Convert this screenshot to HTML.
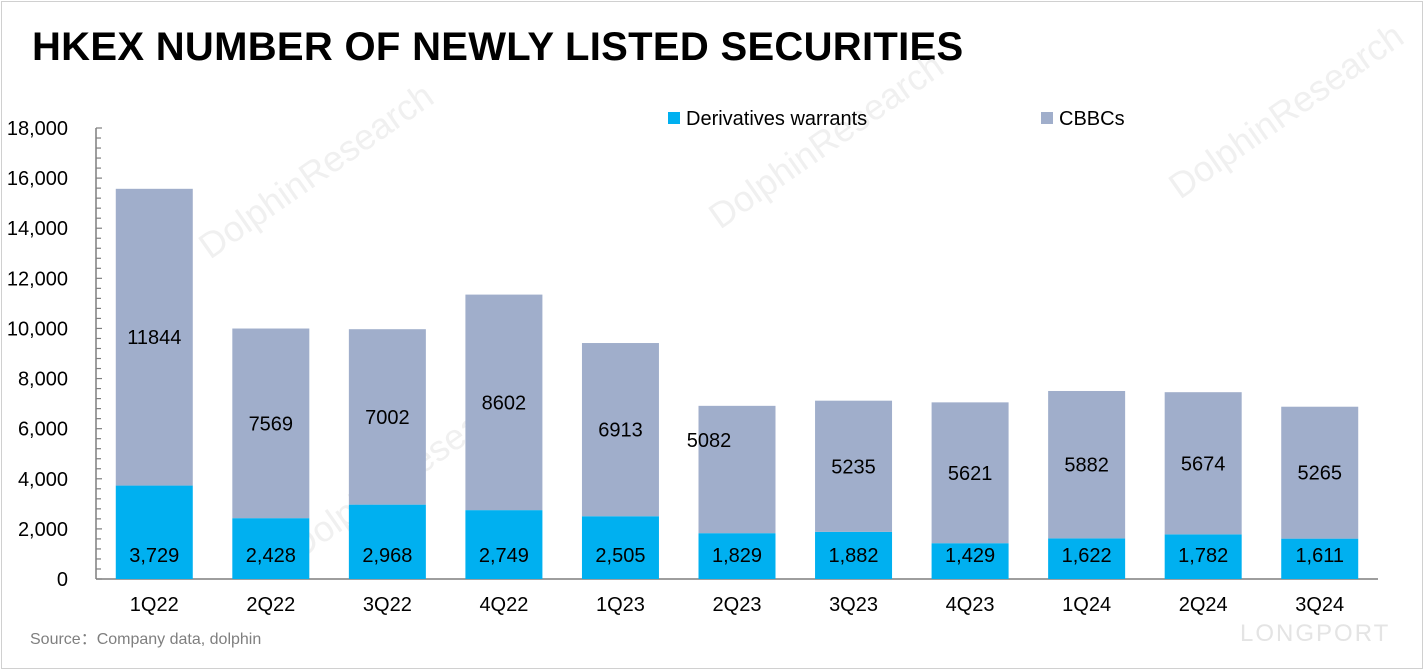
<!DOCTYPE html>
<html><head><meta charset="utf-8"><style>
body{margin:0;background:#fff;}
#wrap{position:relative;width:1424px;height:670px;overflow:hidden;font-family:"Liberation Sans","Noto Sans CJK SC",sans-serif;}
#frame{position:absolute;left:1px;top:1px;width:1420px;height:666px;border:1px solid #d0d0d0;}
h1{position:absolute;left:32px;top:25px;margin:0;font-size:40px;font-weight:bold;color:#000;letter-spacing:0.3px;}
#src{position:absolute;left:30px;top:625px;font-size:16px;color:#7f7f7f;}
#lp{position:absolute;left:1240px;top:620px;font-size:24px;color:#e4e4e4;letter-spacing:2px;}
</style></head><body>
<div id="wrap">
<div id="frame"></div>
<h1>HKEX NUMBER OF NEWLY LISTED SECURITIES</h1>
<div id="src">Source：Company data, dolphin</div>
<div id="lp">LONGPORT</div>
<svg id="chart" width="1424" height="670" style="position:absolute;left:0;top:0"></svg>
</div>
<script>
const categories=["1Q22","2Q22","3Q22","4Q22","1Q23","2Q23","3Q23","4Q23","1Q24","2Q24","3Q24"];
const warrants=[3729,2428,2968,2749,2505,1829,1882,1429,1622,1782,1611];
const cbbcs=[11844,7569,7002,8602,6913,5082,5235,5621,5882,5674,5265];
const yTicks=[0,2000,4000,6000,8000,10000,12000,14000,16000,18000];
const NS="http://www.w3.org/2000/svg";
const svg=document.getElementById('chart');
const x0=96,x1=1378,y0=579,yTop=128,yMax=18000;
const y=v=>y0-(v/yMax)*(y0-yTop);
const band=(x1-x0)/categories.length;
const xc=i=>x0+band*(i+0.5);
const bw=77;
function mk(t,a,txt){const e=document.createElementNS(NS,t);for(const k in a)e.setAttribute(k,a[k]);if(txt!=null)e.textContent=txt;svg.appendChild(e);return e;}
[[210,260],[720,230],[1180,200],[300,560]].forEach(p=>{
 const w=mk('text',{x:p[0],y:p[1],transform:`rotate(-35 ${p[0]} ${p[1]})`,'font-size':36,fill:'#f0f0f0','font-family':'Liberation Sans, sans-serif'},'DolphinResearch');
 
 
});
const ax=mk('line',{x1:x0,y1:yTop,x2:x0,y2:y0,stroke:'#7f7f7f','stroke-width':1.5});


for(let v=0;v<=yMax;v+=400){const t=mk('line',{x1:x0,y1:y(v),x2:x0+(v%2000===0?6:5),y2:y(v),stroke:'#7f7f7f','stroke-width':1.2});
 
 }
yTicks.forEach(v=>{const t=mk('text',{x:68,y:y(v)+7,'text-anchor':'end','font-size':20,fill:'#000'},v.toLocaleString('en-US'));
 
 });
const xa=mk('line',{x1:x0,y1:y0,x2:x1,y2:y0,stroke:'#7f7f7f','stroke-width':1.5});


categories.forEach((c,i)=>{
 const cx=xc(i);
 const r1=mk('rect',{x:cx-bw/2,y:y(warrants[i]),width:bw,height:y0-y(warrants[i]),fill:'#00B0F0'});
 
 
 const tot=warrants[i]+cbbcs[i];
 const r2=mk('rect',{x:cx-bw/2,y:y(tot),width:bw,height:y(warrants[i])-y(tot),fill:'#A0AECB'});
 
 
 const l1=mk('text',{x:cx,y:562,'text-anchor':'middle','font-size':20,fill:'#000'},warrants[i].toLocaleString('en-US'));
 
 
 let ly=y(warrants[i]+cbbcs[i]/2)+7, lx=cx;
 if(c==='2Q23'){ly=y(tot)+41;lx=cx-28;}
 const l2=mk('text',{x:lx,y:ly,'text-anchor':'middle','font-size':20,fill:'#000'},String(cbbcs[i]));
 
 
 const xl=mk('text',{x:cx,y:611,'text-anchor':'middle','font-size':20,fill:'#000'},c);
 
 
});
const lg1=mk('rect',{x:668,y:112,width:12,height:12,fill:'#00B0F0'});


const lt1=mk('text',{x:686,y:125,'font-size':20,fill:'#000'},'Derivatives warrants');


const lg2=mk('rect',{x:1041,y:112,width:12,height:12,fill:'#A0AECB'});


const lt2=mk('text',{x:1059,y:125,'font-size':20,fill:'#000'},'CBBCs');


</script>
</body></html>
